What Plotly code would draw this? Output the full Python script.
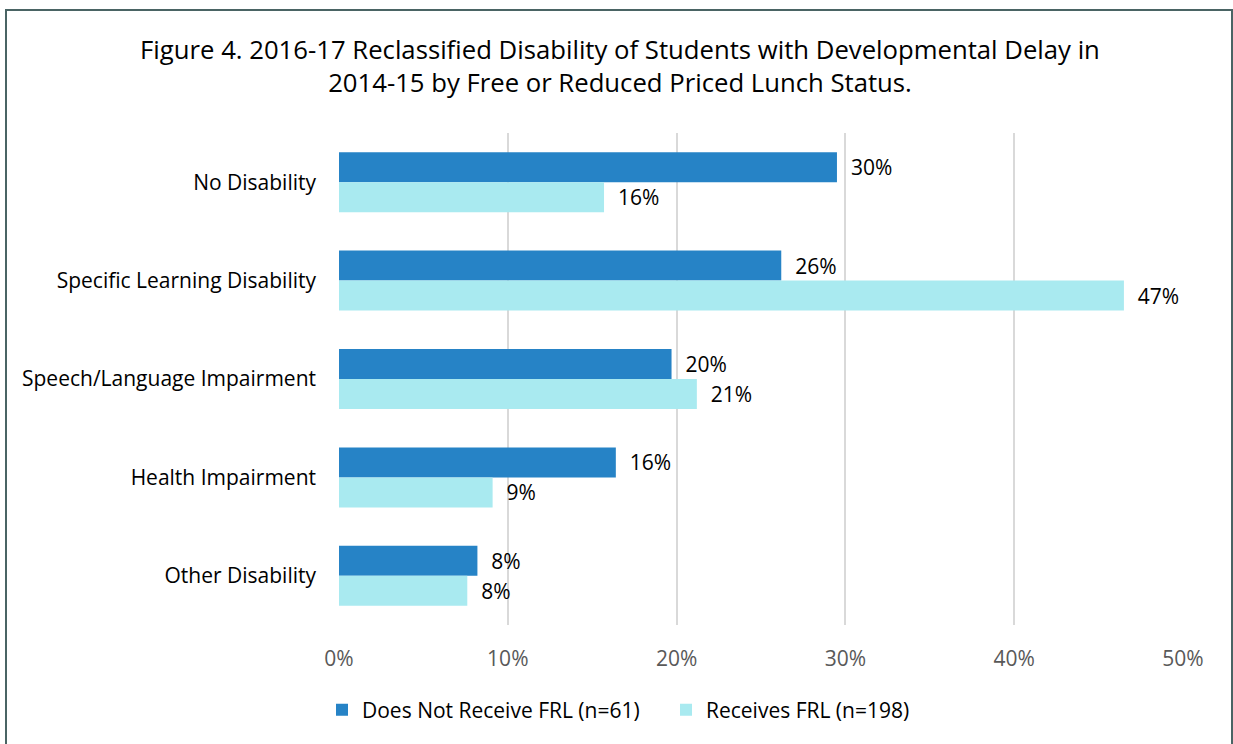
import plotly.graph_objects as go

categories = ["No Disability", "Specific Learning Disability", "Speech/Language Impairment",
              "Health Impairment", "Other Disability"]
series_names = ["Does Not Receive FRL (n=61)", "Receives FRL (n=198)"]
no_frl = [29.5, 26.2, 19.7, 16.4, 8.2]
frl = [15.7, 46.5, 21.2, 9.1, 7.6]
no_frl_labels = ["30%", "26%", "20%", "16%", "8%"]
frl_labels = ["16%", "47%", "21%", "9%", "8%"]
tick_vals = [0, 10, 20, 30, 40, 50]
tick_text = ["0%", "10%", "20%", "30%", "40%", "50%"]

FONT = "Open Sans, sans-serif"
FS = 21

fig = go.Figure()
fig.add_trace(go.Bar(y=categories, x=no_frl, orientation="h", name=series_names[0],
                     marker=dict(color="#2683C6", line=dict(width=0)),
                     text=["  " + t for t in no_frl_labels], textposition="outside",
                     textfont=dict(color="#000000", size=FS, family=FONT), cliponaxis=False,
                     legend="legend", showlegend=True))
fig.add_trace(go.Bar(y=categories, x=frl, orientation="h", name=series_names[1],
                     marker=dict(color="#A9EAF0", line=dict(width=0)),
                     text=["  " + t for t in frl_labels], textposition="outside",
                     textfont=dict(color="#000000", size=FS, family=FONT), cliponaxis=False,
                     legend="legend2", showlegend=True))

leg_common = dict(orientation="h", xref="container", xanchor="left",
                  yref="container", y=1 - 710 / 744, yanchor="middle",
                  font=dict(size=FS, color="#000000", family=FONT),
                  bgcolor="rgba(0,0,0,0)", visible=True)

fig.update_layout(
    width=1233, height=744, autosize=False, showlegend=True,
    paper_bgcolor="white", plot_bgcolor="white",
    margin=dict(l=339, r=50, t=133, b=119, autoexpand=False),
    barmode="group", bargap=0.39, bargroupgap=0,
    font=dict(family=FONT, color="#000000"),
    title=dict(text="Figure 4. 2016-17 Reclassified Disability of Students with Developmental Delay in<br>2014-15 by Free or Reduced Priced Lunch Status.",
               x=(620 / 1233), xref="container", xanchor="center",
               y=1 - 59 / 744, yref="container", yanchor="middle",
               font=dict(size=25.7, color="#000000", family=FONT)),
    xaxis=dict(range=[0, 50], tickvals=tick_vals, ticktext=tick_text, tickangle=0,
               showgrid=True, gridcolor="#D9D9D9", gridwidth=2, zeroline=False,
               showline=False, ticks="", ticklabelstandoff=19, automargin=False,
               tickfont=dict(size=FS, color="#595959", family=FONT)),
    yaxis=dict(autorange="reversed", showgrid=False, showline=False, ticks="",
               ticklabelstandoff=22, automargin=False,
               tickfont=dict(size=FS, color="#000000", family=FONT)),
    legend=dict(x=322 / 1233, **leg_common),
    legend2=dict(x=666 / 1233, **leg_common),
    shapes=[dict(type="rect", xref="paper", yref="paper",
                 x0=(6 - 339) / 844, x1=(1232 - 339) / 844,
                 y0=-0.4, y1=(625 - 10) / 492,
                 line=dict(color="#4A6464", width=2), fillcolor="rgba(0,0,0,0)", layer="below")],
)

fig.write_html("out.html")
